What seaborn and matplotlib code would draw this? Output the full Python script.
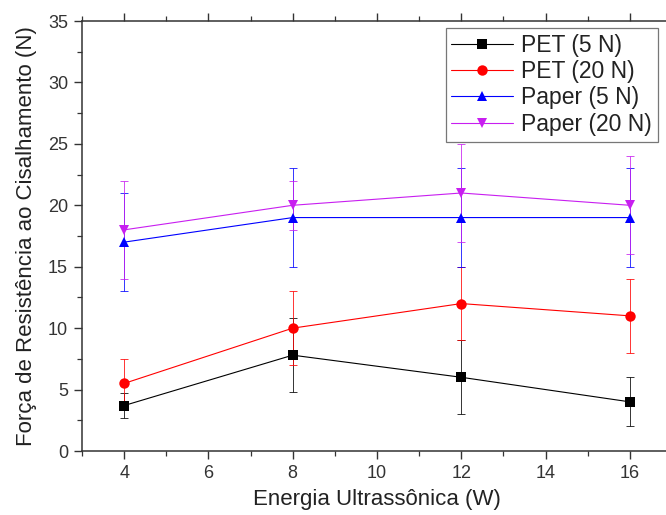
import matplotlib
matplotlib.use("Agg")
import matplotlib.pyplot as plt
import seaborn as sns
import pandas as pd
from matplotlib.ticker import MultipleLocator

energy = [4, 8, 12, 16]
series_names = ["PET (5 N)", "PET (20 N)", "Paper (5 N)", "Paper (20 N)"]
pet_5 = [3.7, 7.8, 6.0, 4.0]
pet_5_err = [1.0, 3.0, 3.0, 2.0]
pet_20 = [5.5, 10.0, 12.0, 11.0]
pet_20_err = [2.0, 3.0, 3.0, 3.0]
paper_5 = [17.0, 19.0, 19.0, 19.0]
paper_5_err = [4.0, 4.0, 4.0, 4.0]
paper_20 = [18.0, 20.0, 21.0, 20.0]
paper_20_err = [4.0, 2.0, 4.0, 4.0]

values = [pet_5, pet_20, paper_5, paper_20]
errors = [pet_5_err, pet_20_err, paper_5_err, paper_20_err]
colors = ["#000000", "#ff0000", "#0000ff", "#c81ef0"]
markers = ["s", "o", "^", "v"]

rows = []
for name, vals, errs in zip(series_names, values, errors):
    for x, v, e in zip(energy, vals, errs):
        rows.append({"Energia": x, "Forca": v, "err": e, "Serie": name})
df = pd.DataFrame(rows)

sns.set_theme(style="ticks")
plt.rcParams["font.family"] = ["Liberation Sans", "DejaVu Sans"]

fig = plt.figure(figsize=(6.66, 5.15), dpi=100)
ax = fig.add_axes([82 / 666, 1 - 451 / 515, 590 / 666, 430 / 515])

for name, c in zip(series_names, colors):
    sub = df[df["Serie"] == name]
    ax.errorbar(sub["Energia"], sub["Forca"], yerr=sub["err"], fmt="none",
                ecolor=c, elinewidth=0.7, capsize=3, capthick=0.7,
                alpha=0.8, zorder=2)

sns.lineplot(data=df, x="Energia", y="Forca", hue="Serie", style="Serie",
             palette=dict(zip(series_names, colors)),
             markers=dict(zip(series_names, markers)),
             dashes=False, linewidth=0.8, markersize=7.5, markeredgewidth=0,
             errorbar=None, ax=ax, zorder=3)

ax.set_xlim(3, 17)
ax.set_ylim(0, 35)
ax.xaxis.set_major_locator(MultipleLocator(2))
ax.xaxis.set_minor_locator(MultipleLocator(1))
ax.yaxis.set_major_locator(MultipleLocator(5))
ax.yaxis.set_minor_locator(MultipleLocator(2.5))
ax.tick_params(which="major", direction="out", length=6, width=1.0,
               labelsize=13, colors="#333333", top=True, right=False, pad=4)
ax.tick_params(which="minor", direction="out", length=3.5, width=0.9,
               top=True, right=False, colors="#333333")
ax.tick_params(axis="x", labeltop=False)
for s in ax.spines.values():
    s.set_color("#333333")
    s.set_linewidth(1.1)

ax.set_xlabel("Energia Ultrassônica (W)", fontsize=16, color="#222222", labelpad=5)
ax.set_ylabel("Força de Resistência ao Cisalhamento (N)", fontsize=16,
              color="#222222", labelpad=8)

leg = ax.legend(title=None, loc="upper right", bbox_to_anchor=(0.976, 0.984),
                fontsize=16.5, frameon=True, fancybox=False, handlelength=2.7,
                borderpad=0.25, labelspacing=0.15, handletextpad=0.35,
                borderaxespad=0.0)
leg.get_frame().set_edgecolor("#555555")
leg.get_frame().set_linewidth(0.9)
for t in leg.get_texts():
    t.set_color("#222222")

fig.savefig("out.png", dpi=100)
